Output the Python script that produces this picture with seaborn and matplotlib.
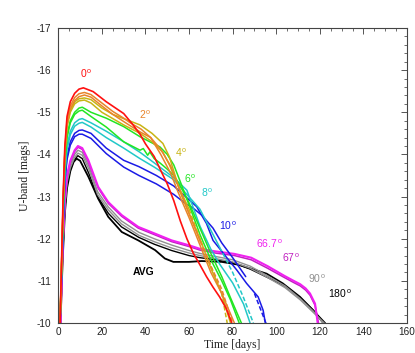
import matplotlib
matplotlib.use("Agg")
import matplotlib.pyplot as plt
import seaborn as sns
import pandas as pd
from matplotlib.ticker import MultipleLocator, FuncFormatter

# ---------------- data ----------------
t_red = [0.8, 1.5, 2.2, 3, 4, 5.5, 7.5, 9.5, 11.5, 16, 22, 30, 34, 37.5, 40, 44, 47, 50, 53, 56, 59, 62, 65, 68, 71, 74, 77, 79.6]
m_red = [-10.0, -11.5, -13.0, -14.2, -14.9, -15.25, -15.45, -15.55, -15.58, -15.49, -15.25, -14.97, -14.72, -14.48, -14.25, -13.95, -13.62, -13.3, -12.9, -12.42, -12.0, -11.65, -11.38, -11.1, -10.85, -10.62, -10.35, -10.0]

t_or1 = [0.8, 1.5, 2.2, 3, 4, 5.5, 7.5, 9.5, 12, 15, 20, 25, 30, 33, 38, 42.4, 47, 51.6, 55, 60, 65, 70, 75, 80.8]
m_or1 = [-10, -11.4, -12.9, -14.1, -14.8, -15.15, -15.35, -15.44, -15.47, -15.42, -15.22, -15.02, -14.86, -14.75, -14.6, -14.4, -14.0, -13.55, -13.1, -12.5, -11.85, -11.2, -10.7, -10.0]
t_or2 = [0.8, 1.5, 2.2, 3, 4, 5.5, 7.5, 9.5, 12, 15, 20, 25, 30, 33, 38, 42.4, 47, 51.6, 55, 60, 65, 70, 75, 80.0]
m_or2 = [-10, -11.4, -12.85, -14.05, -14.72, -15.08, -15.28, -15.37, -15.41, -15.36, -15.15, -14.95, -14.78, -14.68, -14.52, -14.4, -14.12, -13.72, -13.25, -12.6, -11.95, -11.35, -10.8, -10.0]

t_ol1 = [0.8, 1.5, 2.2, 3, 4, 5.5, 7.5, 9.5, 12, 15, 20, 25, 30, 37.5, 43, 48, 51, 53, 56, 60, 65, 70, 75, 79]
m_ol1 = [-10, -11.4, -12.85, -14.05, -14.7, -15.05, -15.25, -15.32, -15.34, -15.3, -15.1, -14.95, -14.85, -14.7, -14.5, -14.26, -13.94, -13.6, -13.1, -12.6, -12.0, -11.3, -10.7, -10.0]
t_ol2 = [0.8, 1.5, 2.2, 3, 4, 5.5, 7.5, 9.5, 12, 15, 20, 25, 30, 37.5, 43, 48, 51, 53, 56, 60, 65, 70, 75, 77.5]
m_ol2 = [-10, -11.4, -12.8, -14.0, -14.65, -15.0, -15.2, -15.27, -15.29, -15.22, -15.0, -14.85, -14.7, -14.5, -14.3, -14.05, -13.75, -13.5, -13.15, -12.7, -12.0, -11.35, -10.7, -10.0]

t_gr1 = [0.8, 1.5, 2.2, 3, 4, 5.5, 7.5, 9.5, 11, 15, 22, 30, 37.5, 42, 46.6, 50, 53, 56, 60, 65, 70, 75, 79, 83]
m_gr1 = [-10, -11.3, -12.7, -13.85, -14.45, -14.8, -15.0, -15.1, -15.12, -15.0, -14.86, -14.66, -14.42, -14.3, -14.18, -14.0, -13.75, -13.35, -12.8, -12.1, -11.5, -11.0, -10.55, -10.0]
t_gr2 = [0.8, 1.5, 2.2, 3, 4, 5.5, 7.5, 9.5, 11, 15, 22, 30, 37.5, 39, 41, 42, 44, 46.6, 50, 53, 56, 60, 65, 70, 75, 79, 84]
m_gr2 = [-10, -11.3, -12.65, -13.8, -14.4, -14.75, -14.95, -15.03, -15.05, -14.9, -14.65, -14.3, -14.1, -14.14, -13.98, -14.06, -13.9, -13.8, -13.65, -13.5, -13.25, -12.85, -12.25, -11.65, -11.1, -10.6, -10.0]

t_cy1 = [0.8, 1.5, 2.2, 3, 4, 5.5, 7.5, 9.5, 11, 15, 22, 30, 37.5, 44, 53, 59, 65, 70, 74, 80, 85, 88]
m_cy1 = [-10, -11.2, -12.5, -13.6, -14.2, -14.55, -14.75, -14.83, -14.85, -14.75, -14.55, -14.3, -14.05, -13.8, -13.45, -13.15, -12.3, -11.75, -11.4, -10.95, -10.45, -10.0]
t_cy2 = [0.8, 1.5, 2.2, 3, 4, 5.5, 7.5, 9.5, 11, 15, 22, 30, 37.5, 44, 53, 59, 65, 70, 74, 80, 85, 89.5]
m_cy2 = [-10, -11.2, -12.45, -13.55, -14.12, -14.47, -14.67, -14.74, -14.76, -14.65, -14.4, -14.15, -13.9, -13.7, -13.4, -13.05, -12.7, -12.2, -11.8, -11.2, -10.6, -10.0]

t_bl1 = [0.8, 1.5, 2.2, 3, 4, 5.5, 7.5, 9.5, 11, 15, 22, 30, 37, 45, 53, 56, 63.5, 68, 71, 77, 82, 86.4, 91.7, 94, 95]
m_bl1 = [-10, -11.1, -12.3, -13.4, -13.95, -14.3, -14.5, -14.57, -14.58, -14.5, -14.15, -13.86, -13.71, -13.5, -13.25, -13.11, -12.76, -12.36, -11.96, -11.57, -11.25, -10.94, -10.62, -10.3, -10.0]
t_bl2 = [0.8, 1.5, 2.2, 3, 4, 5.5, 7.5, 9.5, 11, 15, 22, 30, 37, 45, 53, 58, 62, 66, 71, 75, 80, 86, 90, 93, 96]
m_bl2 = [-10, -11.1, -12.25, -13.35, -13.88, -14.22, -14.42, -14.48, -14.48, -14.38, -14.02, -13.7, -13.5, -13.3, -13.05, -12.85, -12.72, -12.55, -12.25, -11.9, -11.55, -11.1, -10.7, -10.3, -9.9]

t_mg1 = [1, 2, 3, 4, 5.5, 7.5, 9, 11, 13.8, 18.3, 22.9, 29.1, 36.7, 44.4, 52, 59.6, 65, 72, 80.8, 88.5, 96, 103.7, 108, 111, 113.5, 115.5, 117.8, 118.5, 119]
m_mg1 = [-10, -11.8, -12.9, -13.5, -13.85, -14.1, -14.2, -14.15, -13.86, -13.23, -12.87, -12.56, -12.28, -12.12, -11.96, -11.85, -11.76, -11.7, -11.64, -11.55, -11.35, -11.12, -11.0, -10.92, -10.82, -10.7, -10.46, -10.2, -10.0]
t_mg2 = [1, 2, 3, 4, 5.5, 7.5, 9, 11, 13.8, 18.3, 22.9, 29.1, 36.7, 44.4, 52, 59.6, 65, 72, 80.8, 88.5, 96, 103.7, 108, 111, 113.5, 115.5, 117.8, 118.8, 119.4]
m_mg2 = [-10, -11.8, -12.88, -13.47, -13.82, -14.07, -14.17, -14.12, -13.82, -13.2, -12.84, -12.53, -12.25, -12.09, -11.93, -11.82, -11.73, -11.66, -11.6, -11.5, -11.3, -11.08, -10.96, -10.88, -10.78, -10.66, -10.42, -10.15, -10.0]

t_gy1 = [1, 2, 3, 4, 5.5, 7.5, 9, 11, 14, 18, 23, 29, 37, 44, 52, 60, 65, 72, 80, 88, 96, 104, 111, 117, 121.5]
m_gy1 = [-10, -11.7, -12.8, -13.4, -13.75, -14.0, -14.1, -14.05, -13.72, -13.12, -12.75, -12.42, -12.15, -12.0, -11.85, -11.72, -11.65, -11.58, -11.5, -11.35, -11.12, -10.88, -10.58, -10.28, -10.0]
t_gy2 = [1, 2, 3, 4, 5.5, 7.5, 9, 11, 14, 18, 23, 29, 37, 44, 52, 60, 65, 72, 80, 88, 96, 104, 111, 117, 122]
m_gy2 = [-10, -11.7, -12.75, -13.33, -13.68, -13.93, -14.03, -13.98, -13.65, -13.05, -12.68, -12.35, -12.08, -11.93, -11.78, -11.66, -11.6, -11.53, -11.45, -11.3, -11.08, -10.84, -10.55, -10.25, -10.0]

t_bk = [1, 2, 3, 4, 5.5, 7.5, 9, 11, 14, 18, 23, 29, 37, 44, 52, 60, 65, 72, 80, 88, 96, 104, 111, 117, 122.5]
m_bk = [-10, -11.6, -12.7, -13.3, -13.65, -13.88, -13.97, -13.9, -13.55, -13.0, -12.6, -12.28, -12.03, -11.87, -11.72, -11.6, -11.55, -11.5, -11.43, -11.28, -11.08, -10.88, -10.6, -10.3, -10.0]

t_avg = [1, 2, 3, 4, 5.5, 7, 8.4, 10, 13.8, 18.3, 22.9, 29.1, 36.7, 44.4, 48.9, 52.8, 60, 65.8, 75, 83, 95.6, 103, 110.9, 117, 121.6]
m_avg = [-10, -11.5, -12.6, -13.2, -13.6, -13.82, -13.9, -13.85, -13.47, -12.95, -12.52, -12.16, -11.96, -11.73, -11.53, -11.45, -11.45, -11.47, -11.45, -11.38, -11.17, -10.94, -10.62, -10.3, -10.0]

label_text = ["0", "2", "4", "6", "8", "10", "66.7", "67", "90", "180"]
label_t = [12.7, 39.8, 56.3, 60.4, 68.2, 77.8, 97.1, 106.7, 118.7, 129.2]
label_m = [-15.91, -14.93, -14.03, -13.41, -13.1, -12.3, -11.89, -11.54, -11.06, -10.7]

C_RED, C_OR, C_OL, C_GR = "#ff1010", "#e8842a", "#c8b414", "#22e622"
C_CY, C_BL, C_MG, C_MG2 = "#22c8c8", "#1a1ae6", "#f020f0", "#c020c0"
C_GY, C_BK = "#909090", "#000000"
label_colors = [C_RED, C_OR, C_OL, C_GR, C_CY, C_BL, C_MG, C_MG2, C_GY, C_BK]

# (t, m, color, lw, dashed-from-t)
lines = [
    (t_avg, m_avg, C_BK, 1.3, None),
    (t_bk, m_bk, C_BK, 1.0, None),
    (t_gy1, m_gy1, C_GY, 1.0, None),
    (t_gy2, m_gy2, C_GY, 1.0, None),
    (t_mg2, m_mg2, C_MG2, 1.1, None),
    (t_mg1, m_mg1, C_MG, 1.5, None),
    (t_bl2, m_bl2, C_BL, 1.1, 88),
    (t_bl1, m_bl1, C_BL, 1.1, None),
    (t_cy2, m_cy2, C_CY, 1.1, 74),
    (t_cy1, m_cy1, C_CY, 1.1, None),
    (t_gr2, m_gr2, C_GR, 1.1, None),
    (t_gr1, m_gr1, C_GR, 1.1, None),
    (t_ol2, m_ol2, C_OL, 1.1, 60),
    (t_ol1, m_ol1, C_OL, 1.1, None),
    (t_or2, m_or2, C_OR, 1.1, 65),
    (t_or1, m_or1, C_OR, 1.1, None),
    (t_red, m_red, C_RED, 1.2, None),
]

# ---------------- plotting ----------------
sns.set_theme(style="white")
plt.rcParams['font.family'] = ['Liberation Sans', 'DejaVu Sans']
plt.rcParams['mathtext.fontset'] = 'custom'
plt.rcParams['mathtext.rm'] = 'Liberation Sans'
plt.rcParams['mathtext.it'] = 'Liberation Sans'

fig = plt.figure(figsize=(4.15, 3.53), dpi=100)
ax = fig.add_axes([0.1405, 0.085, 0.8402, 0.8357])

for t, m, c, lw, dash_from in lines:
    df = pd.DataFrame({"t": t, "m": m})
    if dash_from is None:
        sns.lineplot(data=df, x="t", y="m", sort=False, estimator=None,
                     color=c, lw=lw, ax=ax)
    else:
        solid = df[df.t <= dash_from]
        dashed = df[df.t >= dash_from]
        sns.lineplot(data=solid, x="t", y="m", sort=False, estimator=None,
                     color=c, lw=lw, ax=ax)
        sns.lineplot(data=dashed, x="t", y="m", sort=False, estimator=None,
                     color=c, lw=lw, ax=ax, linestyle=(0, (3, 1.5)))

for txt, tx, my, c in zip(label_text, label_t, label_m, label_colors):
    ax.text(tx, my, txt + r"$^{\,\mathrm{o}}$", color=c, fontsize=7.5,
            ha="center", va="center")
ax.text(39.3, -11.2, "AVG", color="black", fontsize=7.5, fontweight="bold",
        ha="center", va="center")

ax.set_xlim(0, 160)
ax.set_ylim(-10, -17)
ax.xaxis.set_major_locator(MultipleLocator(20))
ax.xaxis.set_minor_locator(MultipleLocator(5))
ax.yaxis.set_major_locator(MultipleLocator(1))
ax.yaxis.set_minor_locator(MultipleLocator(0.2))
ax.yaxis.set_major_formatter(FuncFormatter(lambda v, p: f"{int(round(v))}"))
ax.tick_params(which="both", direction="in", top=True, right=True,
               color="#555555", labelcolor="#222222", labelsize=7.2)
ax.tick_params(which="major", length=4, width=0.7)
ax.tick_params(which="minor", length=2, width=0.6)
ax.tick_params(axis="y", pad=5)
ax.tick_params(axis="x", pad=3)
for s in ax.spines.values():
    s.set_color("#444444")
    s.set_linewidth(0.8)

ax.set_xlabel("Time [days]", fontfamily=["Liberation Serif"], fontsize=8.5,
              color="#222222", labelpad=1)
ax.set_ylabel("U-band [mags]", fontfamily=["Liberation Serif"], fontsize=8.5,
              color="#222222", labelpad=4)

fig.savefig("out.png", dpi=100)
